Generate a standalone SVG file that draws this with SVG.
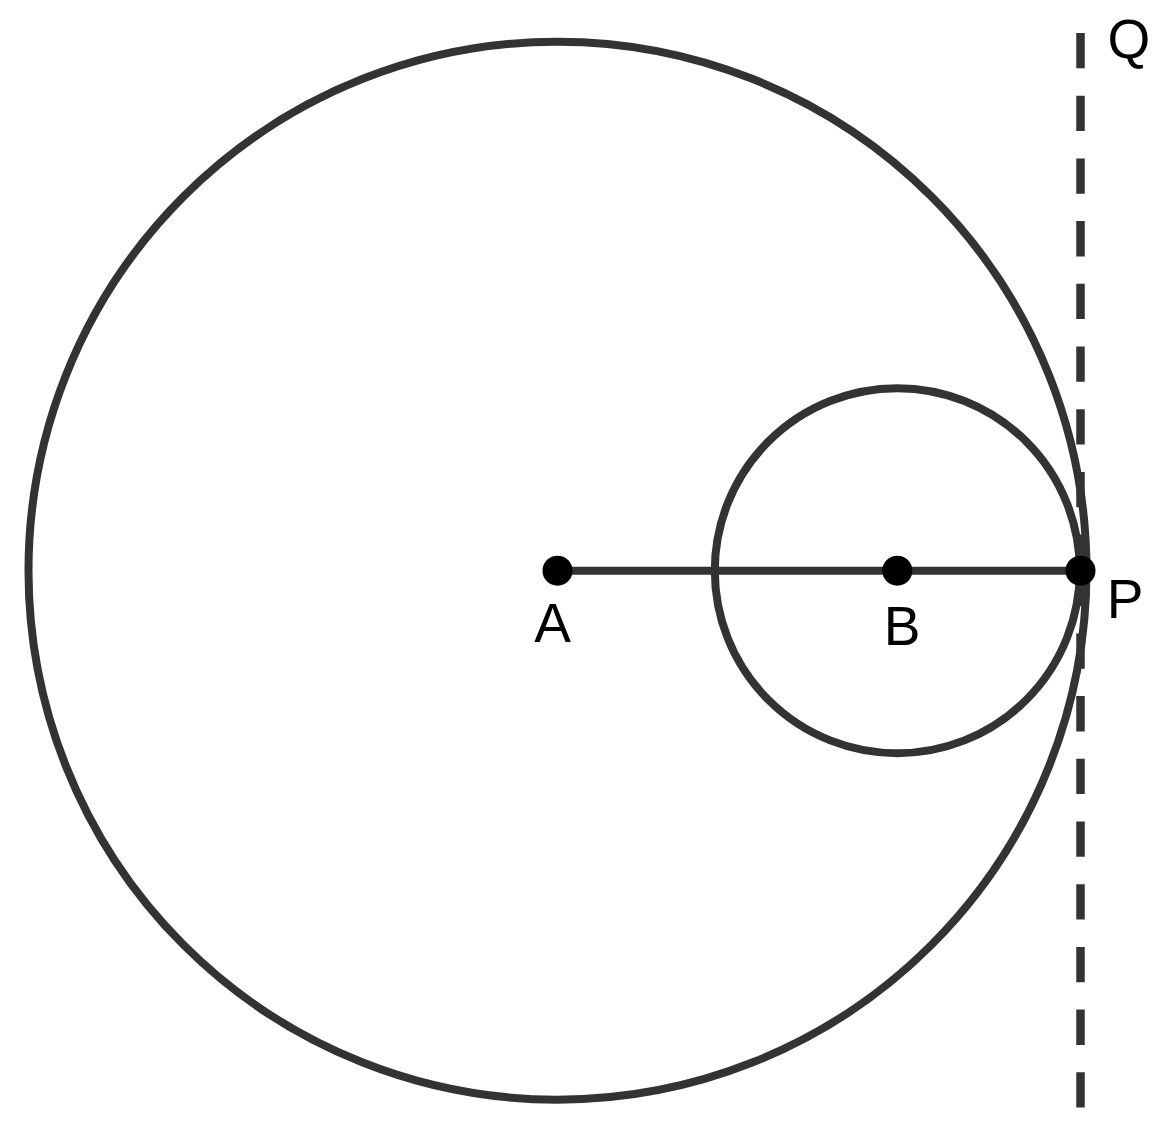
<svg xmlns="http://www.w3.org/2000/svg" width="1171" height="1141" viewBox="0 0 1171 1141">
<style>
.c{fill:none;stroke:#333333;stroke-width:8}
.d{fill:none;stroke:#333333;stroke-width:8.5;stroke-dasharray:35.3 27.4}
.p{fill:#000000}
.t{font-family:"Liberation Sans",Arial,sans-serif;font-size:55px;fill:#000000}
</style>
<rect width="1171" height="1141" fill="#ffffff"/>
<g id="circle-A"><circle class="c" cx="557.5" cy="570.7" r="529"/></g>
<g id="circle-B"><circle class="c" cx="897.3" cy="570.7" r="182.5"/></g>
<g id="connectors">
<line class="d" x1="1080.5" y1="33" x2="1080.5" y2="570.7"/>
<line class="d" x1="1080.5" y1="570.7" x2="1080.5" y2="1108"/>
<line class="c" x1="557.5" y1="570.7" x2="1080.5" y2="570.7"/>
</g>
<g id="A"><circle class="p" cx="557.5" cy="570.7" r="15"/><text class="t" x="552.5" y="641.5" text-anchor="middle">A</text></g>
<g id="B"><circle class="p" cx="897.3" cy="570.7" r="15"/><text class="t" x="902" y="645" text-anchor="middle">B</text></g>
<g id="P"><circle class="p" cx="1080.5" cy="570.7" r="15"/><text class="t" x="1125" y="618" text-anchor="middle">P</text></g>
<g id="Q"><text class="t" x="1129" y="58" text-anchor="middle">Q</text></g>
</svg>
